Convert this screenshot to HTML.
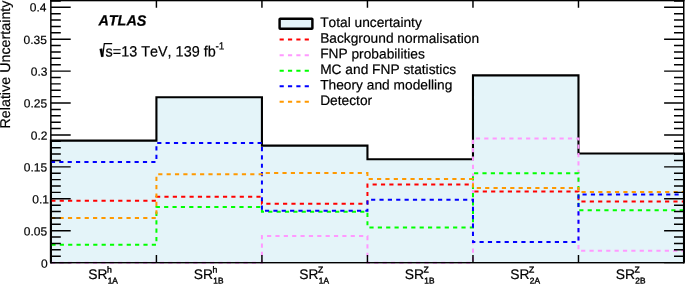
<!DOCTYPE html>
<html><head><meta charset="utf-8"><style>
html,body{margin:0;padding:0;background:#fff;}
body{width:685px;height:284px;overflow:hidden;font-family:"Liberation Sans", sans-serif;}
svg{display:block;will-change:transform;}
text{font-kerning:none;white-space:pre;}
</style></head><body>
<svg width="685" height="284" viewBox="0 0 685 284">
<rect width="685" height="284" fill="#fff"/>
<path d="M50.90,262.50 V140.60 H156.42 V97.20 H261.93 V145.60 H367.45 V159.20 H472.97 V75.40 H578.48 V153.50 H684.00 V262.50 Z" fill="#e4f4f9" stroke="none"/>
<path d="M50.90,262.5 V140.6 H156.42 V97.20 H261.93 V145.60 H367.45 V159.20 H472.97 V75.40 H578.48 V153.50 H684.00 V262.5" fill="none" stroke="#000" stroke-width="2.1"/>
<path d="M50.90,200.85 H156.42 V196.85 H261.93 V203.70 H367.45 V184.50 H472.97 V191.45 H578.48 V201.55 H684.00" fill="none" stroke="#ff0000" stroke-width="2.0" stroke-dasharray="4.18 4.185" stroke-dashoffset="-0.4"/>
<path d="M50.90,262.65 H156.42 V262.65 H261.93 V236.00 H367.45 V262.65 H472.97 V138.45 H578.48 V250.70 H684.00" fill="none" stroke="#ff99ff" stroke-width="2.0" stroke-dasharray="4.18 4.185" stroke-dashoffset="-0.2"/>
<path d="M50.90,244.85 H156.42 V207.00 H261.93 V211.67 H367.45 V227.55 H472.97 V173.25 H578.48 V210.25 H684.00" fill="none" stroke="#00ff00" stroke-width="2.0" stroke-dasharray="4.18 4.185" stroke-dashoffset="-0.5"/>
<path d="M50.90,162.10 H156.42 V142.93 H261.93 V210.84 H367.45 V199.86 H472.97 V242.00 H578.48 V194.40 H684.00" fill="none" stroke="#0000ff" stroke-width="2.0" stroke-dasharray="4.18 4.185" stroke-dashoffset="0"/>
<path d="M50.90,217.90 H156.42 V174.35 H261.93 V173.10 H367.45 V178.90 H472.97 V187.90 H578.48 V191.92 H684.00" fill="none" stroke="#ff9900" stroke-width="2.0" stroke-dasharray="4.18 4.185" stroke-dashoffset="-0.3"/>
<rect x="50.1" y="0" width="1.5" height="263.4" fill="#000"/>
<rect x="683.0" y="0" width="1.5" height="263.4" fill="#000"/>
<rect x="50.1" y="0" width="634.4" height="1.3" fill="#000"/>
<rect x="50.1" y="262.0" width="634.4" height="1.4" fill="#000"/>
<path d="M51,262.60 H70.7 M683.8,262.60 H664.1 M51,256.22 H60.8 M683.8,256.22 H674.0 M51,249.83 H60.8 M683.8,249.83 H674.0 M51,243.45 H60.8 M683.8,243.45 H674.0 M51,237.07 H60.8 M683.8,237.07 H674.0 M51,230.69 H70.7 M683.8,230.69 H664.1 M51,224.30 H60.8 M683.8,224.30 H674.0 M51,217.92 H60.8 M683.8,217.92 H674.0 M51,211.54 H60.8 M683.8,211.54 H674.0 M51,205.15 H60.8 M683.8,205.15 H674.0 M51,198.77 H70.7 M683.8,198.77 H664.1 M51,192.39 H60.8 M683.8,192.39 H674.0 M51,186.00 H60.8 M683.8,186.00 H674.0 M51,179.62 H60.8 M683.8,179.62 H674.0 M51,173.24 H60.8 M683.8,173.24 H674.0 M51,166.85 H70.7 M683.8,166.85 H664.1 M51,160.47 H60.8 M683.8,160.47 H674.0 M51,154.09 H60.8 M683.8,154.09 H674.0 M51,147.71 H60.8 M683.8,147.71 H674.0 M51,141.32 H60.8 M683.8,141.32 H674.0 M51,134.94 H70.7 M683.8,134.94 H664.1 M51,128.56 H60.8 M683.8,128.56 H674.0 M51,122.17 H60.8 M683.8,122.17 H674.0 M51,115.79 H60.8 M683.8,115.79 H674.0 M51,109.41 H60.8 M683.8,109.41 H674.0 M51,103.03 H70.7 M683.8,103.03 H664.1 M51,96.64 H60.8 M683.8,96.64 H674.0 M51,90.26 H60.8 M683.8,90.26 H674.0 M51,83.88 H60.8 M683.8,83.88 H674.0 M51,77.49 H60.8 M683.8,77.49 H674.0 M51,71.11 H70.7 M683.8,71.11 H664.1 M51,64.73 H60.8 M683.8,64.73 H674.0 M51,58.34 H60.8 M683.8,58.34 H674.0 M51,51.96 H60.8 M683.8,51.96 H674.0 M51,45.58 H60.8 M683.8,45.58 H674.0 M51,39.20 H70.7 M683.8,39.20 H664.1 M51,32.81 H60.8 M683.8,32.81 H674.0 M51,26.43 H60.8 M683.8,26.43 H674.0 M51,20.05 H60.8 M683.8,20.05 H674.0 M51,13.66 H60.8 M683.8,13.66 H674.0 M51,7.28 H70.7 M683.8,7.28 H664.1 M51,0.90 H60.8 M683.8,0.90 H674.0 M156.42,262.50 V254.9 M156.42,0 V7.7 M261.93,262.50 V254.9 M261.93,0 V7.7 M367.45,262.50 V254.9 M367.45,0 V7.7 M472.97,262.50 V254.9 M472.97,0 V7.7 M578.48,262.50 V254.9 M578.48,0 V7.7" stroke="#000" stroke-width="1.45" fill="none"/>
<g font-family="Liberation Sans, sans-serif" fill="#000" stroke="#000" stroke-width="0.2">
<text transform="translate(40.89,267.70) skewY(0.05)" font-size="12.0">0</text>
<text transform="translate(23.75,235.50) skewY(0.05)" font-size="12.0">0.05</text>
<text transform="translate(32.30,203.40) skewY(0.05)" font-size="12.0">0.1</text>
<text transform="translate(23.75,171.50) skewY(0.05)" font-size="12.0">0.15</text>
<text transform="translate(30.82,139.70) skewY(0.05)" font-size="12.0">0.2</text>
<text transform="translate(23.75,107.60) skewY(0.05)" font-size="12.0">0.25</text>
<text transform="translate(30.85,75.70) skewY(0.05)" font-size="12.0">0.3</text>
<text transform="translate(23.55,44.00) skewY(0.05)" font-size="12.0">0.35</text>
<text transform="translate(29.77,11.60) skewY(0.05)" font-size="12.0">0.4</text>
<text transform="translate(88.26,278.90) skewY(0.05)" font-size="13.85">SR</text>
<text transform="translate(106.96,272.55) skewY(0.05)" font-size="8.6" stroke-width="0.4">h</text>
<text transform="translate(107.76,283.60) skewY(0.05)" font-size="8.3" stroke-width="0.4">1A</text>
<text transform="translate(193.78,278.90) skewY(0.05)" font-size="13.85">SR</text>
<text transform="translate(212.47,272.55) skewY(0.05)" font-size="8.6" stroke-width="0.4">h</text>
<text transform="translate(213.28,283.60) skewY(0.05)" font-size="8.3" stroke-width="0.4">1B</text>
<text transform="translate(299.29,278.90) skewY(0.05)" font-size="13.85">SR</text>
<text transform="translate(317.99,272.55) skewY(0.05)" font-size="8.6" stroke-width="0.4">Z</text>
<text transform="translate(318.79,283.60) skewY(0.05)" font-size="8.3" stroke-width="0.4">1A</text>
<text transform="translate(404.81,278.90) skewY(0.05)" font-size="13.85">SR</text>
<text transform="translate(423.51,272.55) skewY(0.05)" font-size="8.6" stroke-width="0.4">Z</text>
<text transform="translate(424.31,283.60) skewY(0.05)" font-size="8.3" stroke-width="0.4">1B</text>
<text transform="translate(510.33,278.90) skewY(0.05)" font-size="13.85">SR</text>
<text transform="translate(529.03,272.55) skewY(0.05)" font-size="8.6" stroke-width="0.4">Z</text>
<text transform="translate(529.83,283.60) skewY(0.05)" font-size="8.3" stroke-width="0.4">2A</text>
<text transform="translate(615.84,278.90) skewY(0.05)" font-size="13.85">SR</text>
<text transform="translate(634.54,272.55) skewY(0.05)" font-size="8.6" stroke-width="0.4">Z</text>
<text transform="translate(635.34,283.60) skewY(0.05)" font-size="8.3" stroke-width="0.4">2B</text>
<rect x="279.6" y="18.75" width="32.8" height="10.05" rx="0.6" fill="#e4f4f9" stroke="#000" stroke-width="2.45" stroke-linejoin="round"/>
<text transform="translate(320.15,27.00) skewY(0.05)" font-size="13.75">Total uncertainty</text>
<path d="M279.6,39.60 H311" stroke="#ff0000" stroke-width="2.0" stroke-dasharray="4.18 4.185"/>
<text transform="translate(320.15,42.80) skewY(0.05)" font-size="13.75">Background normalisation</text>
<path d="M279.6,55.15 H311" stroke="#ff99ff" stroke-width="2.0" stroke-dasharray="4.18 4.185"/>
<text transform="translate(320.15,58.35) skewY(0.05)" font-size="13.75">FNP probabilities</text>
<path d="M279.6,70.70 H311" stroke="#00ff00" stroke-width="2.0" stroke-dasharray="4.18 4.185"/>
<text transform="translate(320.15,73.90) skewY(0.05)" font-size="13.75">MC and FNP statistics</text>
<path d="M279.6,86.25 H311" stroke="#0000ff" stroke-width="2.0" stroke-dasharray="4.18 4.185"/>
<text transform="translate(320.15,89.45) skewY(0.05)" font-size="13.75">Theory and modelling</text>
<path d="M279.6,101.80 H311" stroke="#ff9900" stroke-width="2.0" stroke-dasharray="4.18 4.185"/>
<text transform="translate(320.15,105.00) skewY(0.05)" font-size="13.75">Detector</text>
<text transform="translate(98.40,25.60) skewY(0.05) scale(1.0,1.04)" font-size="14.4" font-weight="bold" font-style="italic">ATLAS</text>
<path d="M99.6,49.0 L102.2,48.5 L103.4,56.6 L101.2,56.9 Z" fill="#000"/>
<path d="M102.6,56.6 L104.3,43.7 H112.2" fill="none" stroke="#000" stroke-width="1.2"/>
<text transform="translate(105.60,56.45) skewY(0.05) scale(1.0,1.04)" font-size="14.4">s=13 TeV, 139 fb</text>
<text transform="translate(215.40,49.60) skewY(0.05) scale(1.0,1.04)" font-size="10">-1</text>
<text transform="translate(10.0,128.5) rotate(-90) skewY(0.05)" font-size="14.2" letter-spacing="0.05">Relative Uncertainty</text>
</g>
</svg>
</body></html>
